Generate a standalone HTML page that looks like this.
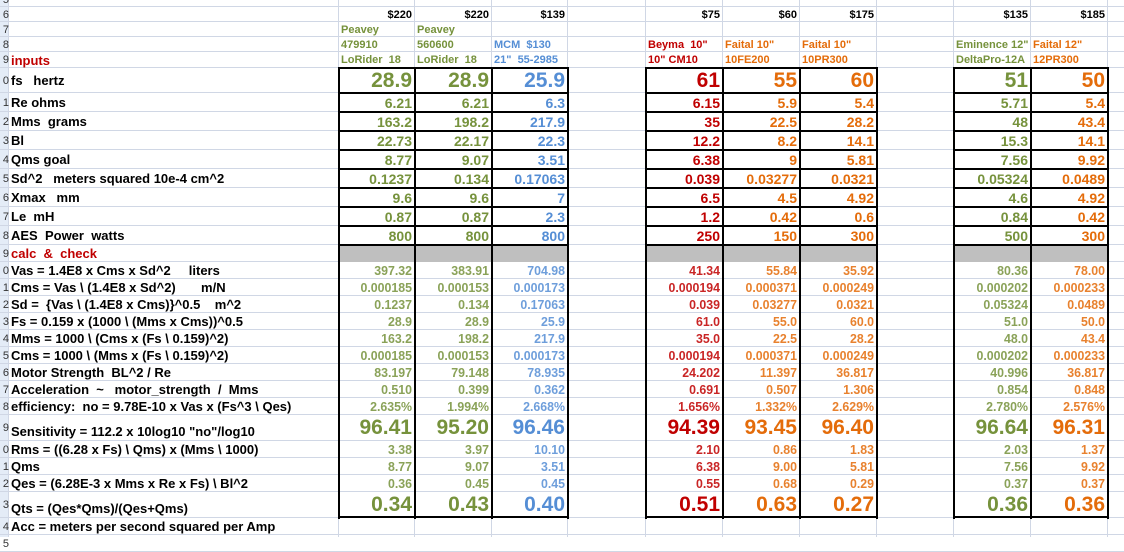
<!DOCTYPE html>
<html><head><meta charset="utf-8">
<style>
body{margin:0;width:1124px;height:537px;overflow:hidden;background:#fff;font-family:"Liberation Sans",Arial,sans-serif;position:relative}
.c{position:absolute;box-sizing:border-box;white-space:pre;overflow:visible;display:flex;align-items:center}
.g{position:absolute;background:#D0D7E5}
.k{position:absolute;background:#000}
</style></head><body>
<div id="sheet"></div>
<script>
const colLefts=[339,415,492,568,646,723,800,877,954,1031,1108,1185];
const dataCols=[0,1,2,4,5,6,8,9];
const colColors=["#76923C","#76923C","#558ED5","#C00000","#E46C0A","#E46C0A","#76923C","#E46C0A"];
const prices=["$220","$220","$139","$75","$60","$175","$135","$185"];
const name1=["Peavey","Peavey","","Beyma  10\"","Faital 10\"","Faital 10\"","Eminence 12\"","Faital 12\""];
const name2=["479910","560600","MCM  $130","10\" CM10","10FE200","10PR300","DeltaPro-12A","12PR300"];
const name0=["LoRider  18","LoRider  18","21\"  55-2985","","","","",""];
const rows=[[5,-8,15],[6,7,15],[7,22,15],[8,37,15],[9,52,16],[10,68,25],[11,93,19],[12,112,19],[13,131,19],[14,150,19],[15,169,19],[16,188,19],[17,207,19],[18,226,19],[19,245,17],[20,262,17],[21,279,17],[22,296,17],[23,313,17],[24,330,17],[25,347,17],[26,364,17],[27,381,17],[28,398,17],[29,415,26],[30,441,17],[31,458,17],[32,475,17],[33,492,26],[34,518,17],[35,535,17]];
const labels={9:"inputs",10:"fs   hertz",11:"Re ohms",12:"Mms  grams",13:"Bl",14:"Qms goal",15:"Sd^2   meters squared 10e-4 cm^2",16:"Xmax   mm",17:"Le  mH",18:"AES  Power  watts",19:"calc  &  check",20:"Vas = 1.4E8 x Cms x Sd^2     liters",21:"Cms = Vas \\ (1.4E8 x Sd^2)       m/N",22:"Sd =  {Vas \\ (1.4E8 x Cms)}^0.5    m^2",23:"Fs = 0.159 x (1000 \\ (Mms x Cms))^0.5",24:"Mms = 1000 \\ (Cms x (Fs \\ 0.159)^2)",25:"Cms = 1000 \\ (Mms x (Fs \\ 0.159)^2)",26:"Motor Strength  BL^2 / Re",27:"Acceleration  ~   motor_strength  /  Mms",28:"efficiency:  no = 9.78E-10 x Vas x (Fs^3 \\ Qes)",29:"Sensitivity = 112.2 x 10log10 \"no\"/log10",30:"Rms = ((6.28 x Fs) \\ Qms) x (Mms \\ 1000)",31:"Qms",32:"Qes = (6.28E-3 x Mms x Re x Fs) \\ Bl^2",33:"Qts = (Qes*Qms)/(Qes+Qms)",34:"Acc = meters per second squared per Amp"};
const dataRows=[10,11,12,13,14,15,16,17,18,20,21,22,23,24,25,26,27,28,29,30,31,32,33];
const v1=["28.9","6.21","163.2","22.73","8.77","0.1237","9.6","0.87","800","397.32","0.000185","0.1237","28.9","163.2","0.000185","83.197","0.510","2.635%","96.41","3.38","8.77","0.36","0.34"];
const v2=["28.9","6.21","198.2","22.17","9.07","0.134","9.6","0.87","800","383.91","0.000153","0.134","28.9","198.2","0.000153","79.148","0.399","1.994%","95.20","3.97","9.07","0.45","0.43"];
const v3=["25.9","6.3","217.9","22.3","3.51","0.17063","7","2.3","800","704.98","0.000173","0.17063","25.9","217.9","0.000173","78.935","0.362","2.668%","96.46","10.10","3.51","0.45","0.40"];
const v4=["61","6.15","35","12.2","6.38","0.039","6.5","1.2","250","41.34","0.000194","0.039","61.0","35.0","0.000194","24.202","0.691","1.656%","94.39","2.10","6.38","0.55","0.51"];
const v5=["55","5.9","22.5","8.2","9","0.03277","4.5","0.42","150","55.84","0.000371","0.03277","55.0","22.5","0.000371","11.397","0.507","1.332%","93.45","0.86","9.00","0.68","0.63"];
const v6=["60","5.4","28.2","14.1","5.81","0.0321","4.92","0.6","300","35.92","0.000249","0.0321","60.0","28.2","0.000249","36.817","1.306","2.629%","96.40","1.83","5.81","0.29","0.27"];
const v7=["51","5.71","48","15.3","7.56","0.05324","4.6","0.84","500","80.36","0.000202","0.05324","51.0","48.0","0.000202","40.996","0.854","2.780%","96.64","2.03","7.56","0.37","0.36"];
const v8=["50","5.4","43.4","14.1","9.92","0.0489","4.92","0.42","300","78.00","0.000233","0.0489","50.0","43.4","0.000233","36.817","0.848","2.576%","96.31","1.37","9.92","0.37","0.36"];
const vals=[v1,v2,v3,v4,v5,v6,v7,v8];

const S=document.getElementById('sheet');
function add(cls,x,y,w,h){const d=document.createElement('div');d.className=cls;d.style.left=x+'px';d.style.top=y+'px';d.style.width=w+'px';d.style.height=h+'px';S.appendChild(d);return d;}
const rh=add('g',0,0,9,537);rh.style.background='#E4ECF7';


rows.forEach(r=>{add('g',0,r[1]+r[2]-1,1124,1);});
[9].concat(colLefts).forEach(x=>{add('g',x-1,0,1,537);});
dataCols.forEach(ci=>{const d=add('c',colLefts[ci],245,colLefts[ci+1]-colLefts[ci],17);d.style.background='#BFBFBF';});
function rowOf(n){return rows.find(r=>r[0]===n);}
rows.forEach(r=>{
  const n=add('c',0,r[1],9,r[2]);n.textContent=String(r[0]%10);n.style.fontSize='11px';n.style.color='#333';n.style.justifyContent='flex-end';n.style.overflow='hidden';
  
  
  if(labels[r[0]]){const L=add('c',11,r[1],330,r[2]);L.textContent=labels[r[0]];
    L.style.fontWeight='bold';L.style.fontSize='13px';L.style.color=(r[0]===9||r[0]===19)?'#C00000':'#000';
    if(r[0]===29||r[0]===33){L.style.alignItems='flex-end';L.style.paddingBottom='2px';}
    
    }
});
dataCols.forEach((ci,k)=>{
  const x=colLefts[ci],w=colLefts[ci+1]-x,col=colColors[k];
  const p=add('c',x,7,w-3,15);p.textContent=prices[k];p.style.cssText+='font-weight:bold;font-size:11px;justify-content:flex-end;color:#000';
  
  
  [[7,name1[k]],[8,name2[k]],[9,name0[k]]].forEach(([rn,t])=>{
    let tt=t; if(ci>=4){tt = rn===8?name1[k]:rn===9?name2[k]:"";}
    if(!tt)return;const r=rowOf(rn);const d=add('c',x+2,r[1],w+20,r[2]);d.textContent=tt;d.style.cssText+='font-weight:bold;font-size:11px;color:'+col;
    
    
  });
  dataRows.forEach((rn,i)=>{
    const r=rowOf(rn);const d=add('c',x,r[1],w-3,r[2]);d.textContent=vals[k][i];
    const big=(rn===10||rn===29||rn===33), input=rn<=18;
    d.style.justifyContent='flex-end';d.style.color=col;d.style.fontWeight='bold';
    d.style.fontSize=big?'21px':(input?'14px':'13px');
    if(!big&&!input){d.style.transform='scaleX(0.95)';d.style.transformOrigin='right';d.style.opacity='0.85';}
    
    
  });
});
[[0,3],[4,7],[8,10]].forEach(([a,b])=>{
  const x0=colLefts[a],x1=colLefts[b];
  for(let c=a;c<=b;c++)add('k',colLefts[c]-1,68,2,451);
  [68,93,112,131,150,169,188,207,226,245,517].forEach(y=>add('k',x0-1,y-1,x1-x0+2,2));
});
</script>
</body></html>
